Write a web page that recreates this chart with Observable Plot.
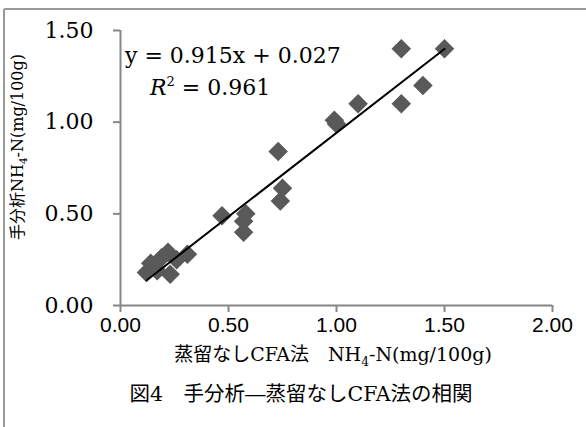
<!DOCTYPE html>
<html><head><meta charset="utf-8">
<script src="https://cdn.jsdelivr.net/npm/d3@7"></script>
<script src="https://cdn.jsdelivr.net/npm/@observablehq/plot@0.6"></script>
<style>body{margin:0;background:#fff} svg{display:block}</style>
</head><body><div id="chart"></div>
<script>
const xValues = [0.12, 0.14, 0.17, 0.19, 0.22, 0.23, 0.26, 0.31, 0.47, 0.57, 0.57, 0.58, 0.73, 0.74, 0.75, 0.99, 1.00, 1.10, 1.30, 1.30, 1.40, 1.50];
const yValues = [0.18, 0.23, 0.19, 0.26, 0.29, 0.17, 0.25, 0.28, 0.49, 0.40, 0.46, 0.50, 0.84, 0.57, 0.64, 1.01, 0.99, 1.10, 1.10, 1.40, 1.20, 1.40];
const xTicks = [0, 0.5, 1, 1.5, 2];
const yTicks = [0, 0.5, 1, 1.5];
const slope = 0.915, intercept = 0.027, r2 = 0.961;
const xLabelText = ["蒸留なしCFA法　NH", "4", "-N(mg/100g)"];
const yLabelText = ["手分析NH", "4", "-N(mg/100g)"];
const captionText = "図4　手分析―蒸留なしCFA法の相関";

const points = xValues.map((x, i) => ({x, y: yValues[i]}));
const xMin = d3.min(xValues), xMax = d3.max(xValues);
const trend = [xMin, xMax].map(x => ({x, y: slope * x + intercept}));

const W = 586, H = 427, mL = 120, mR = 34, mT = 30, mB = 122, tick = 7;
const frameW = W - mL - mR, frameH = H - mT - mB;
const gray = "#868686";
const serif = "'DejaVu Serif','Noto Sans CJK JP',serif";
const sans = "'Liberation Sans',Arial,sans-serif";
const fmt = d3.format(".2f");

const chart = Plot.plot({
  width: W, height: H,
  marginLeft: mL, marginRight: mR, marginTop: mT, marginBottom: mB,
  x: {domain: [0, 2], axis: null},
  y: {domain: [0, 1.5], axis: null},
  style: {background: "#fff"},
  marks: [
    Plot.ruleX(xTicks, {x: d => d, insetTop: frameH - tick, dy: tick, stroke: gray, strokeWidth: 2}),
    Plot.text(xTicks, {x: d => d, frameAnchor: "bottom", dy: 12, lineAnchor: "top", text: fmt, fill: "#000", fontFamily: sans, fontSize: 21}),
    Plot.ruleY(yTicks, {y: d => d, insetRight: frameW - tick, dx: -tick, stroke: gray, strokeWidth: 2}),
    Plot.text(yTicks, {y: d => d, frameAnchor: "left", dx: -27, textAnchor: "end", text: fmt, fill: "#000", fontFamily: serif, fontSize: 22}),
    Plot.ruleX([0], {stroke: gray, strokeWidth: 2}),
    Plot.ruleY([0], {stroke: gray, strokeWidth: 2}),
    Plot.dot(points, {x: "x", y: "y", symbol: "square", rotate: 45, r: 7.8, fill: "#595959", stroke: "none"}),
    Plot.line(trend, {x: "x", y: "y", stroke: "#000", strokeWidth: 2})
  ]
});
document.getElementById("chart").append(chart);

const svg = d3.select(chart);
// frame lines
svg.append("line").attr("x1", 4).attr("x2", W).attr("y1", 9).attr("y2", 9).attr("stroke", "#999").attr("stroke-width", 2);
svg.append("line").attr("x1", 4).attr("x2", 4).attr("y1", 9).attr("y2", H).attr("stroke", "#999").attr("stroke-width", 2);

// equation
svg.append("text").attr("x", 125).attr("y", 63).attr("text-anchor", "start").attr("font-family", serif).attr("font-size", 22).attr("fill", "#000")
  .text(`y = ${slope}x + ${intercept.toFixed(3)}`);
const r2t = svg.append("text").attr("x", 150).attr("y", 95).attr("text-anchor", "start").attr("font-family", serif).attr("font-size", 22).attr("fill", "#000");
r2t.append("tspan").attr("font-style", "italic").text("R");
r2t.append("tspan").attr("font-size", 13).attr("dy", -9).text("2");
r2t.append("tspan").attr("dy", 9).text(` = ${r2}`);

function subLabel(t, parts, size) {
  t.append("tspan").text(parts[0]);
  t.append("tspan").attr("font-size", size * 0.65).attr("dy", size * 0.25).text(parts[1]);
  t.append("tspan").attr("dy", -size * 0.25).text(parts[2]);
}
const yl = svg.append("text").attr("transform", "translate(23,147) rotate(-90)").attr("text-anchor", "middle")
  .attr("font-family", serif).attr("font-size", 16).attr("fill", "#000");
subLabel(yl, yLabelText, 16);
const xl = svg.append("text").attr("x", 333).attr("y", 361).attr("text-anchor", "middle")
  .attr("font-family", serif).attr("font-size", 19).attr("fill", "#000");
subLabel(xl, xLabelText, 19);
svg.append("text").attr("x", 301).attr("y", 401).attr("text-anchor", "middle")
  .attr("font-family", serif).attr("font-size", 20.5).attr("fill", "#000").text(captionText);
</script>
</body></html>
